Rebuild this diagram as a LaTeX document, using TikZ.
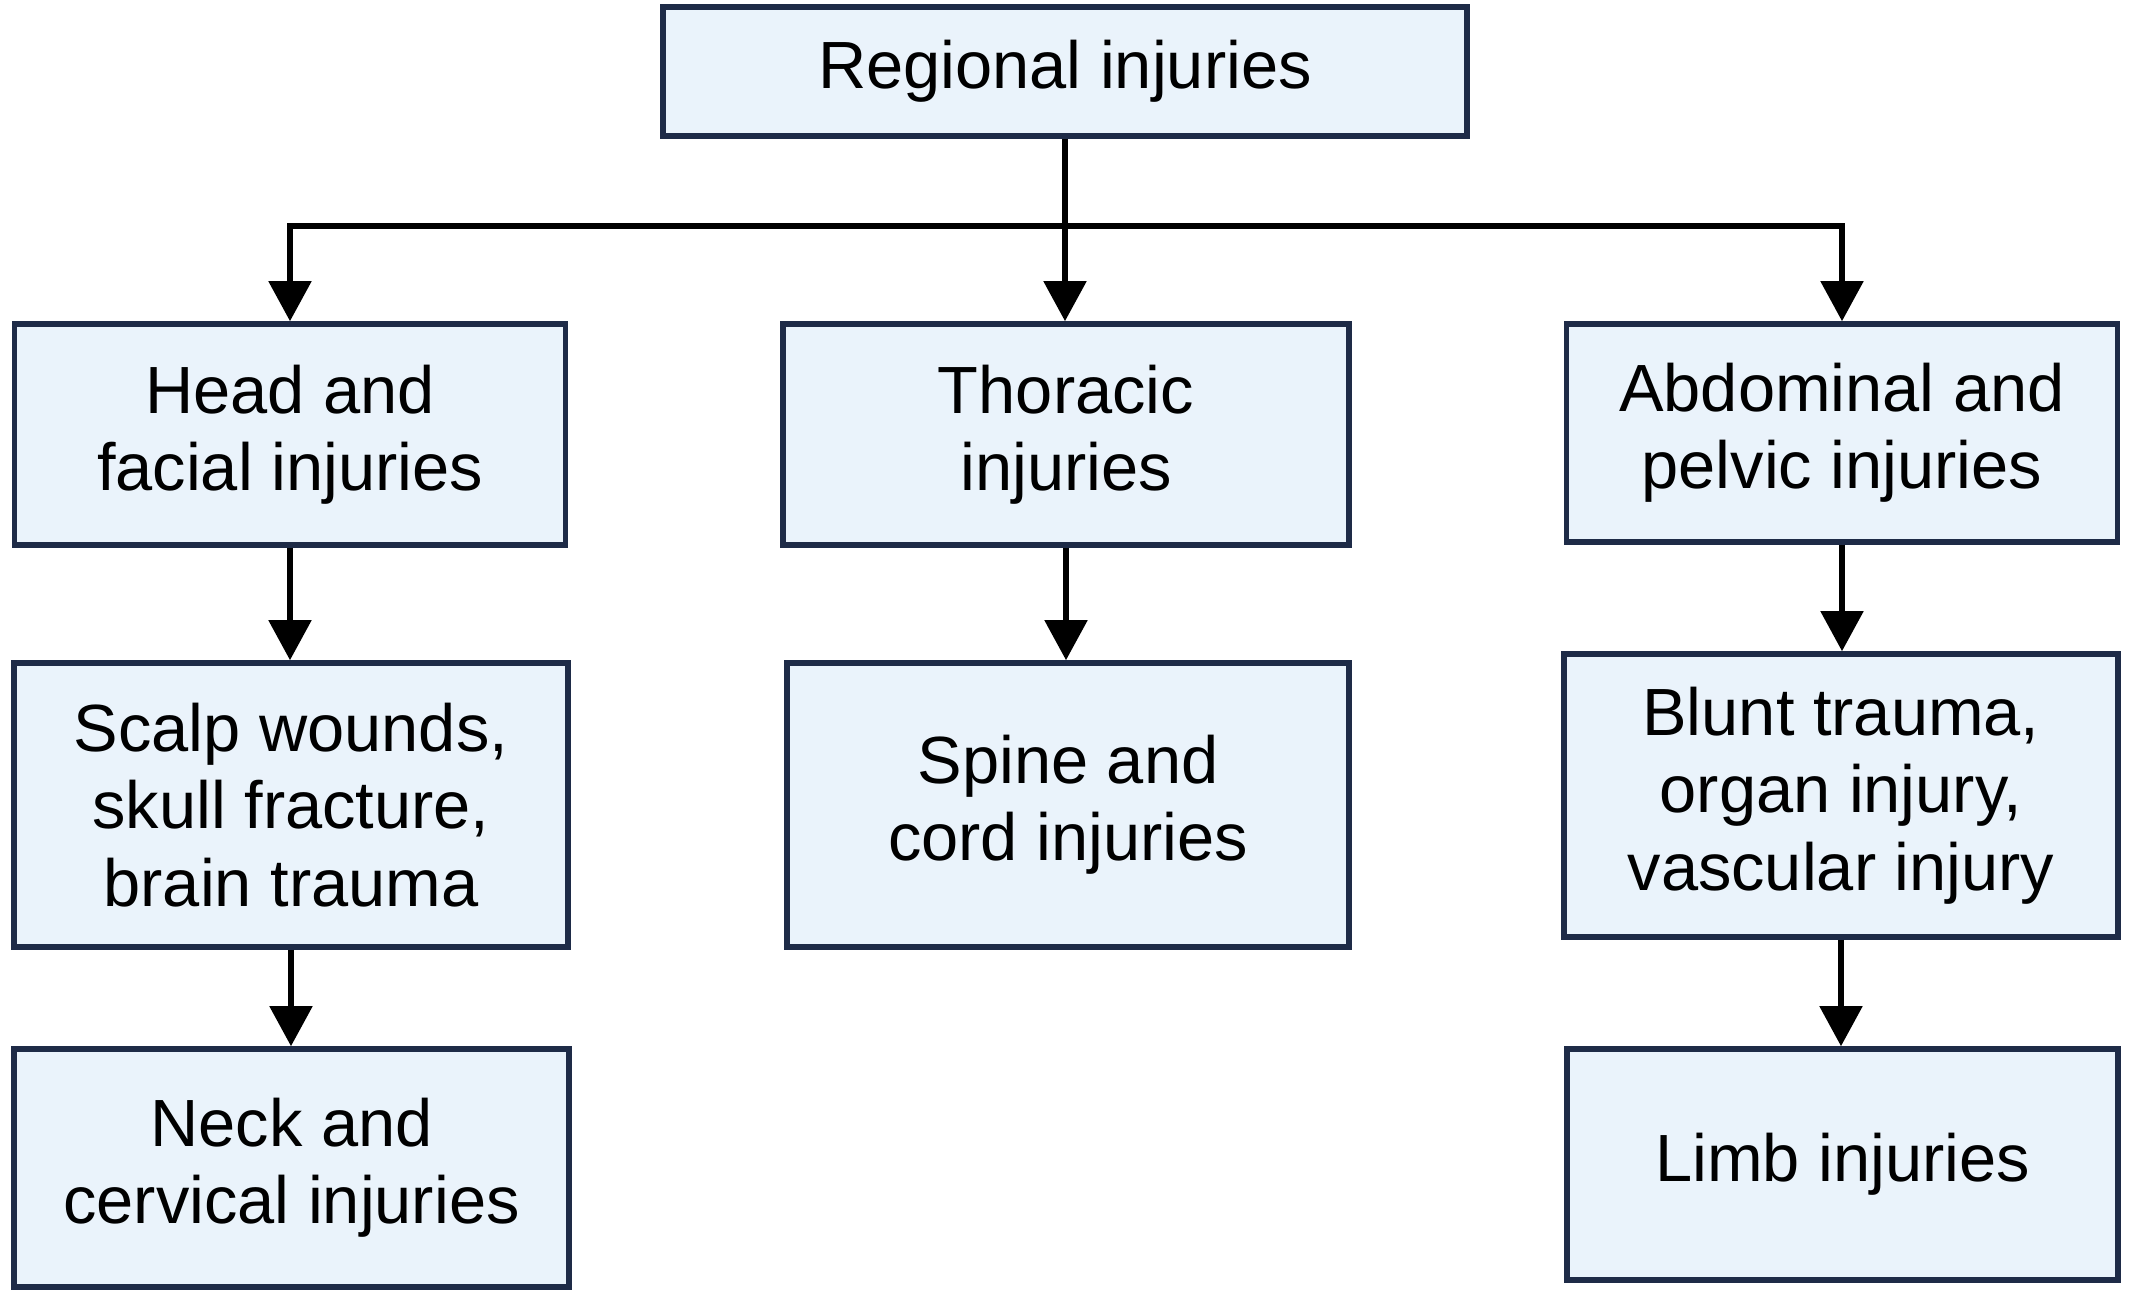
\documentclass[tikz,border=0pt]{standalone}
\usepackage{fontspec}
\setmainfont{Liberation Sans}
\usetikzlibrary{arrows.meta}

\definecolor{boxfill}{HTML}{EAF3FB}
\definecolor{boxline}{HTML}{1E2B47}

\tikzstyle{block}=[rectangle,draw=boxline,fill=boxfill,line width=1.6pt,align=center,inner sep=0pt,font=\fontsize{19}{22}\selectfont]
\tikzstyle{link}=[line width=1.5pt,-{Triangle[width=0.42cm,length=0.4cm]}]
\tikzstyle{trunk}=[line width=1.5pt]

\begin{document}
\begin{tikzpicture}
	    	\useasboundingbox (0,0) rectangle (21.36,12.9);
	    	%Root
	    	\node[block,minimum width=8.04cm,minimum height=1.29cm] (region) at (10.65,12.185) {Regional injuries};
	    	%First level
	    	\node[block,minimum width=5.51cm,minimum height=2.21cm] (head) at (2.9,8.555) {Head and\\facial injuries};
	    	\node[block,minimum width=5.66cm,minimum height=2.21cm] (thorax) at (10.66,8.555) {Thoracic\\injuries};
	    	\node[block,minimum width=5.51cm,minimum height=2.18cm] (abdomen) at (18.42,8.57) {Abdominal and\\pelvic injuries};
	    	%Second level
	    	\node[block,minimum width=5.54cm,minimum height=2.84cm] (scalp) at (2.91,4.85) {Scalp wounds,\\skull fracture,\\brain trauma};
	    	\node[block,minimum width=5.62cm,minimum height=2.84cm] (spine) at (10.68,4.85) {Spine and\\cord injuries};
	    	\node[block,minimum width=5.54cm,minimum height=2.83cm] (blunt) at (18.41,4.945) {Blunt trauma,\\organ injury,\\vascular injury};
	    	%Third level
	    	\node[block,minimum width=5.55cm,minimum height=2.38cm] (neck) at (2.915,1.22) {Neck and\\cervical injuries};
	    	\node[block,minimum width=5.51cm,minimum height=2.31cm] (limb) at (18.425,1.255) {Limb injuries};
	    	%Branching bar
	    	\coordinate (bar) at (region.south |- 0,10.64);
	    	\draw[trunk] (region.south) -- (bar);
	    	\draw[link] (bar) -| (head.north);
	    	\draw[link] (bar) -- (region.south |- thorax.north);
	    	\draw[link] (bar) -| (abdomen.north);
	    	%Down the columns
	    	\foreach \from/\to in {head/scalp, scalp/neck, thorax/spine, abdomen/blunt, blunt/limb}
	    	\draw[link] (\from.south) -- (\from.south |- \to.north);
\end{tikzpicture}
\end{document}
